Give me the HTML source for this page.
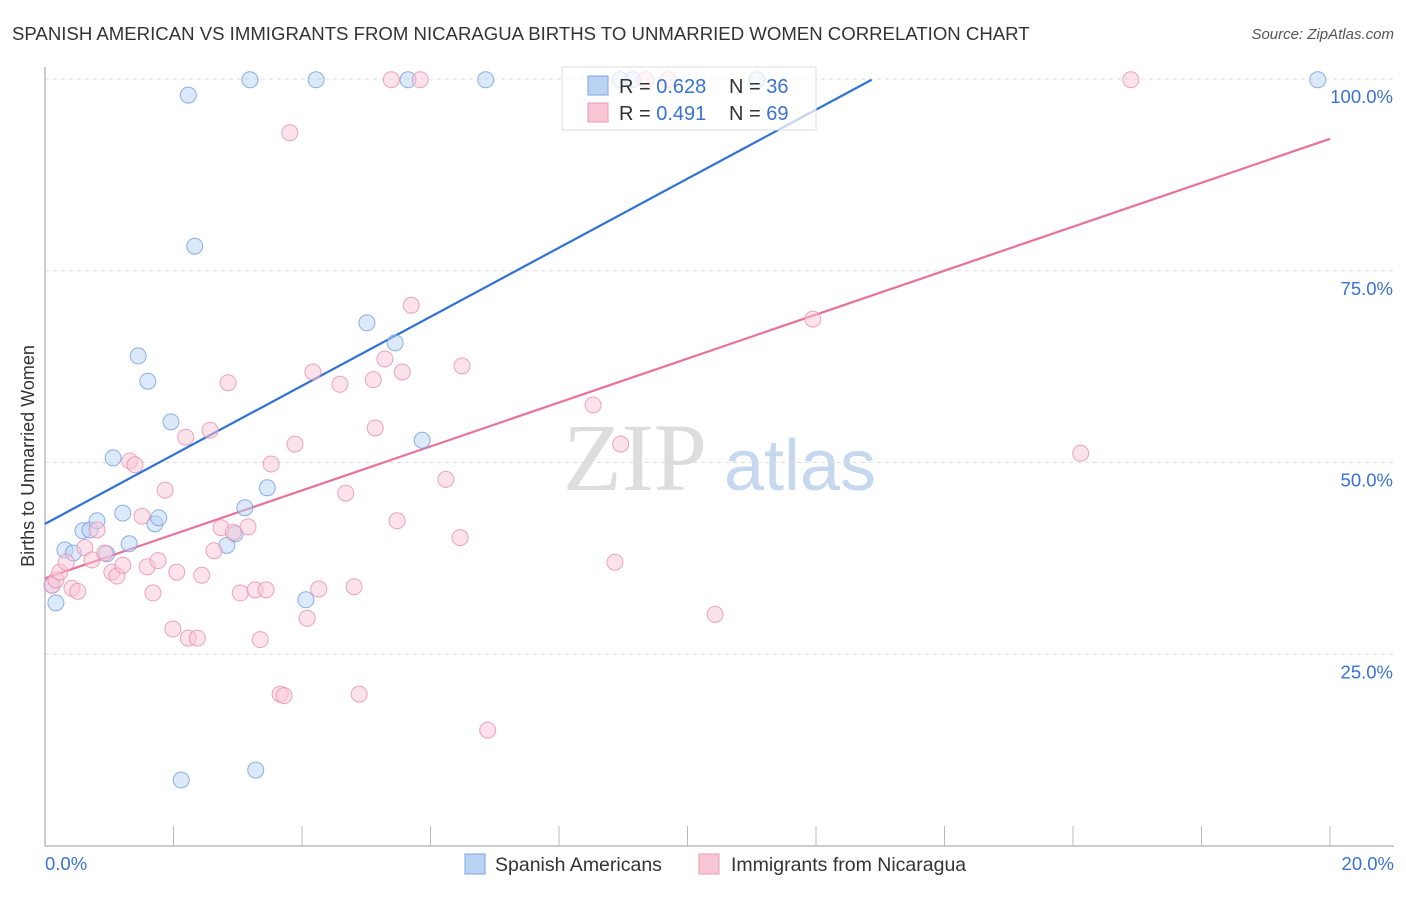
<!DOCTYPE html>
<html><head><meta charset="utf-8"><style>
body{margin:0;background:#fff;font-family:"Liberation Sans",sans-serif}
svg text{font-family:"Liberation Sans",sans-serif}
</style></head><body>
<svg id="chart" width="1406" height="892" xmlns="http://www.w3.org/2000/svg">
<text x="12" y="40" font-size="18.6" fill="#333">SPANISH AMERICAN VS IMMIGRANTS FROM NICARAGUA BIRTHS TO UNMARRIED WOMEN CORRELATION CHART</text>
<text x="1394" y="39" font-size="15" fill="#555" text-anchor="end" font-style="italic">Source: ZipAtlas.com</text>
<text x="0" y="0" transform="translate(34,456) rotate(-90)" font-size="18" fill="#333" text-anchor="middle">Births to Unmarried Women</text>
<g><text x="635" y="490" font-size="96" fill="#ddd" text-anchor="middle" font-family="Liberation Serif" style="font-family:'Liberation Serif',serif">ZIP</text><text x="800" y="490" font-size="72" fill="#c5d8ee" text-anchor="middle">atlas</text></g>
<g id="grid"></g><g id="axes"></g><g id="lines"></g><g id="pts"></g>
<g>
<rect x="562" y="67" width="254" height="63" fill="#fff" fill-opacity="0.7" stroke="#ddd"/>
<rect x="588" y="76" width="20" height="19" fill="#b9d3f5" stroke="#7da6e0"/>
<rect x="588" y="103" width="20" height="19" fill="#f9c6d5" stroke="#ec9ab3"/>
<text x="619" y="93" font-size="20" fill="#333">R = <tspan fill="#3a72d4">0.628</tspan></text>
<text x="729" y="93" font-size="20" fill="#333">N = <tspan fill="#3a72d4">36</tspan></text>
<text x="619" y="120" font-size="20" fill="#333">R = <tspan fill="#3a72d4">0.491</tspan></text>
<text x="729" y="120" font-size="20" fill="#333">N = <tspan fill="#3a72d4">69</tspan></text>
</g>
<g>
<rect x="465" y="854" width="20" height="20" fill="#b9d3f5" stroke="#7da6e0"/>
<text x="495" y="871" font-size="19.5" fill="#333">Spanish Americans</text>
<rect x="699" y="854" width="20" height="20" fill="#f9c6d5" stroke="#ec9ab3"/>
<text x="731" y="871" font-size="19.5" fill="#333">Immigrants from Nicaragua</text>
</g>
</svg>
<script>
const xTicks=[0,2,4,6,8,10,12,14,16,18,20];
const yTicks=[25,50,75,100];
const yTickLabels=["25.0%","50.0%","75.0%","100.0%"];
const xEndLabels=["0.0%","20.0%"];
const blueX=[0.11,0.17,0.31,0.44,0.59,0.70,0.81,0.96,1.06,1.21,1.31,1.45,1.60,1.71,1.77,1.96,2.12,2.23,2.33,2.83,2.96,3.11,3.19,3.28,3.46,4.06,4.22,5.01,5.45,5.65,5.87,6.86,8.95,9.15,11.08,19.81];
const blueY=[34.0,31.7,38.6,38.2,41.1,41.2,42.4,38.1,50.6,43.4,39.4,63.9,60.6,42.0,42.8,55.3,8.6,97.9,78.2,39.2,40.7,44.1,99.9,9.9,46.7,32.1,99.9,68.2,65.6,99.9,52.9,99.9,99.9,99.9,99.9,99.9];
const pinkX=[0.11,0.17,0.23,0.33,0.42,0.51,0.62,0.73,0.81,0.93,1.04,1.12,1.21,1.32,1.40,1.51,1.59,1.68,1.76,1.87,1.99,2.05,2.19,2.23,2.37,2.44,2.57,2.63,2.74,2.85,2.93,3.04,3.16,3.27,3.35,3.44,3.52,3.66,3.72,3.81,3.89,4.08,4.17,4.26,4.59,4.68,4.81,4.89,5.11,5.14,5.29,5.39,5.48,5.56,5.70,5.84,6.24,6.46,6.49,6.89,8.53,8.87,8.96,9.35,9.70,10.43,11.95,16.12,16.90];
const pinkY=[34.0,34.7,35.7,37.0,33.6,33.2,38.9,37.3,41.2,38.2,35.7,35.2,36.6,50.2,49.7,43.0,36.4,33.0,37.2,46.4,28.3,35.7,53.3,27.1,27.1,35.3,54.2,38.5,41.5,60.4,40.9,33.0,41.6,33.4,26.9,33.4,49.8,19.8,19.6,93.0,52.4,29.7,61.8,33.5,60.2,46.0,33.8,19.8,60.8,54.5,63.5,99.9,42.4,61.8,70.5,99.9,47.8,40.2,62.6,15.1,57.5,37.0,52.4,99.9,99.9,30.2,68.7,51.2,99.9];
const blueTrend=[42.0,4.5];   // intercept, slope
const pinkTrend=[34.9,2.865];
const NS="http://www.w3.org/2000/svg";
const X=v=>45+v/20*1285, Y=v=>846-v/100*767;
function mk(tag,attrs,parent){const e=document.createElementNS(NS,tag);for(const k in attrs)e.setAttribute(k,attrs[k]);document.getElementById(parent).appendChild(e);return e;}
yTicks.forEach((t,i)=>{
 const l=mk('line',{x1:45,x2:1394,y1:Y(t),y2:Y(t),stroke:'#ddd','stroke-dasharray':'4,4'},'grid');
 
 
 const tx=mk('text',{x:1393,y:Y(t)+24,'font-size':18.5,fill:'#3a72d4','text-anchor':'end'},'grid');
 tx.textContent=yTickLabels[i];
 
 
});
const ax=mk('line',{x1:45,x2:1394,y1:846,y2:846,stroke:'#bbb','stroke-width':1.5},'axes');


const ay=mk('line',{x1:45,x2:45,y1:67,y2:846,stroke:'#bbb','stroke-width':1.5},'axes');


xTicks.forEach(t=>{
 const l=mk('line',{x1:X(t),x2:X(t),y1:826,y2:846,stroke:'#bbb'},'axes');
 
 
});
const xl0=mk('text',{x:45,y:870,'font-size':18.5,fill:'#3a72d4'},'axes');xl0.textContent=xEndLabels[0];


const xl1=mk('text',{x:1394,y:870,'font-size':18.5,fill:'#3a72d4','text-anchor':'end'},'axes');xl1.textContent=xEndLabels[1];


function pts(xs,ys,fill,stroke,name){xs.forEach((x,i)=>{
 const c=mk('circle',{cx:X(x),cy:Y(ys[i]),r:8,fill:fill,'fill-opacity':0.5,stroke:stroke,'stroke-opacity':0.8},'pts');
 
 
});}
pts(blueX,blueY,'#b9d3f5','#6f9ee0','point-spanish-american');
pts(pinkX,pinkY,'#f9c6d5','#e890ab','point-nicaragua');
const bx2=(99.9-blueTrend[0])/blueTrend[1];
const bl=mk('line',{x1:X(0),y1:Y(blueTrend[0]),x2:X(bx2),y2:Y(99.9),stroke:'#2f72d6','stroke-width':2.2},'lines');


const pl=mk('line',{x1:X(0),y1:Y(pinkTrend[0]),x2:X(20),y2:Y(pinkTrend[0]+20*pinkTrend[1]),stroke:'#e8729a','stroke-width':2.2},'lines');


</script>
</body></html>
